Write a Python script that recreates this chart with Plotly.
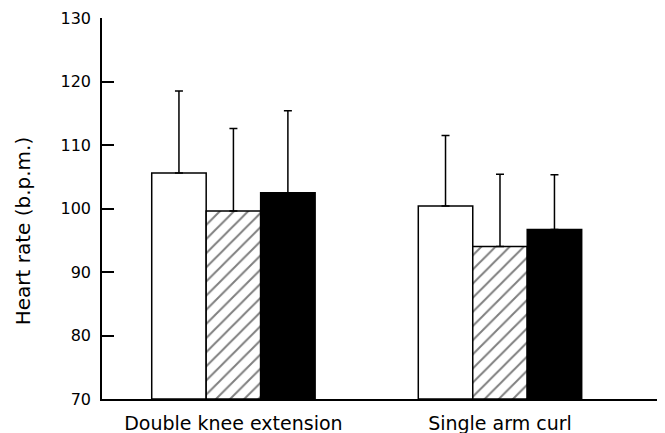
import plotly.graph_objects as go

categories = ["Double knee extension", "Single arm curl"]
series_names = ["Condition 1", "Condition 2", "Condition 3"]
means_1 = [105.6, 100.4]
sd_1 = [12.9, 11.1]
means_2 = [99.6, 94.0]
sd_2 = [13.0, 11.4]
means_3 = [102.5, 96.7]
sd_3 = [12.9, 8.6]
y_ticks = [70, 80, 90, 100, 110, 120, 130]
y_title = "Heart rate (b.p.m.)"

FONT = "DejaVu Sans"

fig = go.Figure()
styles = [
    dict(color="white", pattern=None),
    dict(color="white", pattern=dict(shape="/", fgcolor="black", bgcolor="white", size=10, solidity=0.2)),
    dict(color="black", pattern=None),
]
for name, m, s, st in zip(series_names, [means_1, means_2, means_3], [sd_1, sd_2, sd_3], styles):
    base = [70] * len(m)
    marker = dict(color=st["color"], line=dict(color="black", width=1.5))
    if st["pattern"]:
        marker["pattern"] = st["pattern"]
    fig.add_trace(go.Bar(
        x=categories,
        y=[v - 70 for v in m],
        base=base,
        name=name,
        marker=marker,
        error_y=dict(type="data", symmetric=False, array=s, arrayminus=[0] * len(s),
                     color="black", thickness=1.5, width=4),
        showlegend=False,
        hoverinfo="skip",
    ))

# page body has an 8px default margin, so the figure is sized to fit the window
fig.update_layout(
    width=657, height=425,
    margin=dict(l=94, r=8, t=10, b=34, autoexpand=False),
    paper_bgcolor="white", plot_bgcolor="white",
    barmode="group", bargap=0.387, bargroupgap=0,
    font=dict(family=FONT, color="black", size=16),
    annotations=[dict(
        text=y_title, xref="paper", yref="paper", x=0, y=0.44,
        xanchor="center", yanchor="middle", xshift=-79, textangle=-90,
        showarrow=False, font=dict(family=FONT, size=20, color="black"),
    )],
)
fig.update_xaxes(
    range=[-0.493, 1.589], showline=True, linecolor="black", linewidth=1.5,
    ticks="", showgrid=False, zeroline=False, ticklabelstandoff=6,
    tickfont=dict(family=FONT, size=19), automargin=False,
)
fig.update_yaxes(
    range=[70, 130], tickvals=y_ticks, showline=True, linecolor="black", linewidth=1.5,
    ticks="inside", ticklen=12, tickwidth=1.5, tickcolor="black",
    showgrid=False, zeroline=False, ticklabelstandoff=6,
    tickfont=dict(family=FONT, size=16),
    automargin=False,
)

fig.write_html("out.html")
